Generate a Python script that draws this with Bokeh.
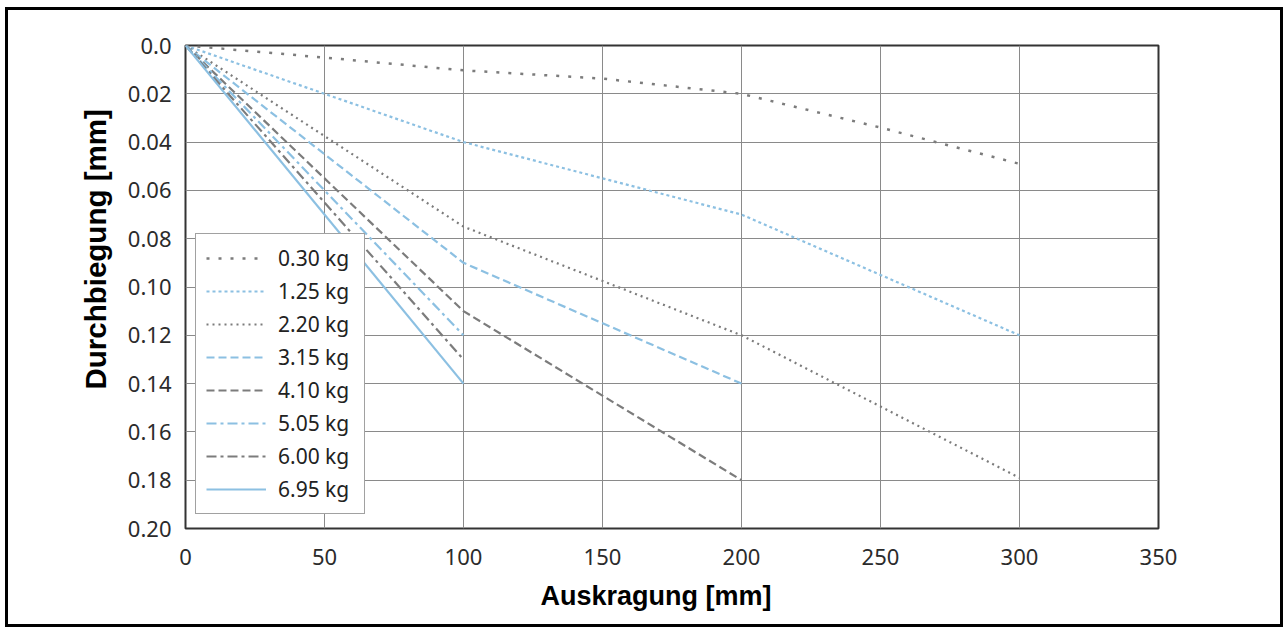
from bokeh.plotting import figure
from bokeh.models import Range1d, FixedTicker, CustomJSTickFormatter, Legend, LegendItem, Title
from bokeh.embed import file_html
from bokeh.resources import INLINE

# ---- data ----
x_ticks = [0, 50, 100, 150, 200, 250, 300, 350]
y_ticks = [0.0, 0.02, 0.04, 0.06, 0.08, 0.10, 0.12, 0.14, 0.16, 0.18, 0.20]

labels = ["0.30 kg", "1.25 kg", "2.20 kg", "3.15 kg", "4.10 kg", "5.05 kg", "6.00 kg", "6.95 kg"]

x_030 = [0, 50, 100, 150, 200, 250, 300]
y_030 = [0.0, 0.005, 0.0103, 0.0137, 0.020, 0.034, 0.049]

x_125 = [0, 100, 200, 300]
y_125 = [0.0, 0.040, 0.070, 0.120]

x_220 = [0, 100, 200, 300]
y_220 = [0.0, 0.075, 0.120, 0.179]

x_315 = [0, 100, 200]
y_315 = [0.0, 0.090, 0.140]

x_410 = [0, 100, 200]
y_410 = [0.0, 0.110, 0.180]

x_505 = [0, 100]
y_505 = [0.0, 0.120]

x_600 = [0, 100]
y_600 = [0.0, 0.130]

x_695 = [0, 100]
y_695 = [0.0, 0.140]

GRAY = "#7c7c7c"
BLUE = "#8cc0e2"

series = [
    (x_030, y_030, GRAY, "3 9", 2.5),
    (x_125, y_125, BLUE, "3 3", 2.2),
    (x_220, y_220, GRAY, "2 4", 2.2),
    (x_315, y_315, BLUE, "8 4", 2.2),
    (x_410, y_410, GRAY, "8 4", 2.2),
    (x_505, y_505, BLUE, "10 4 3 4", 2.2),
    (x_600, y_600, GRAY, "10 4 3 4", 2.2),
    (x_695, y_695, BLUE, "solid", 2.2),
]

# figure placed inside an outer black frame (drawn as CSS outline)
p = figure(width=1272, height=614, output_backend="svg", toolbar_location=None,
           x_range=Range1d(0, 350), y_range=Range1d(0.2, 0.0),
           min_border_left=177, min_border_right=122, min_border_top=35, min_border_bottom=96)
p.styles = {"outline": "3px solid black", "outline-offset": "0px",
            "margin-left": "8px", "margin-top": "10px"}

p.background_fill_color = "white"
p.border_fill_color = "white"
p.outline_line_color = "#333333"
p.outline_line_width = 2

p.xaxis.ticker = FixedTicker(ticks=x_ticks)
p.yaxis.ticker = FixedTicker(ticks=y_ticks)
p.yaxis.formatter = CustomJSTickFormatter(code="return tick == 0 ? '0.0' : tick.toFixed(2);")

for ax in [p.xaxis[0], p.yaxis[0]]:
    ax.axis_line_color = None
    ax.major_tick_line_color = None
    ax.minor_tick_line_color = None
    ax.major_label_text_font = "Noto Sans"
    ax.major_label_text_font_size = "22px"
    ax.major_label_text_color = "#2b2b2b"
p.yaxis.major_label_standoff = 8
p.xaxis.major_label_standoff = 14

p.xgrid.grid_line_color = "#8a8a8a"
p.ygrid.grid_line_color = "#8a8a8a"
p.xgrid.grid_line_width = 1
p.ygrid.grid_line_width = 1

items = []
for (xs, ys, col, dash, w), lab in zip(series, labels):
    r = p.line(xs, ys, line_color=col, line_dash=dash, line_width=w)
    items.append(LegendItem(label=lab, renderers=[r]))

legend = Legend(items=items, location=(10, 14))
legend.label_text_font = "Noto Sans"
legend.label_text_font_size = "21px"
legend.label_text_color = "#222222"
legend.glyph_width = 60
legend.glyph_height = 22
legend.label_height = 22
legend.label_width = 76
legend.spacing = 5
legend.padding = 10
legend.label_standoff = 12
legend.border_line_color = "#444444"
legend.border_line_width = 1.5
legend.background_fill_color = "white"
legend.background_fill_alpha = 1.0
legend.margin = 0
p.add_layout(legend)

ytitle = Title(text="Durchbiegung [mm]", align="left", offset=139,
               text_font="Liberation Sans", text_font_size="29.5px", text_font_style="bold",
               text_color="black", standoff=25)
p.add_layout(ytitle, "left")
xtitle = Title(text="Auskragung [mm]", align="left", offset=355,
               text_font="Liberation Sans", text_font_size="27px", text_font_style="bold",
               text_color="black", standoff=23)
p.add_layout(xtitle, "below")

open("out.html", "w").write(file_html(p, INLINE))
